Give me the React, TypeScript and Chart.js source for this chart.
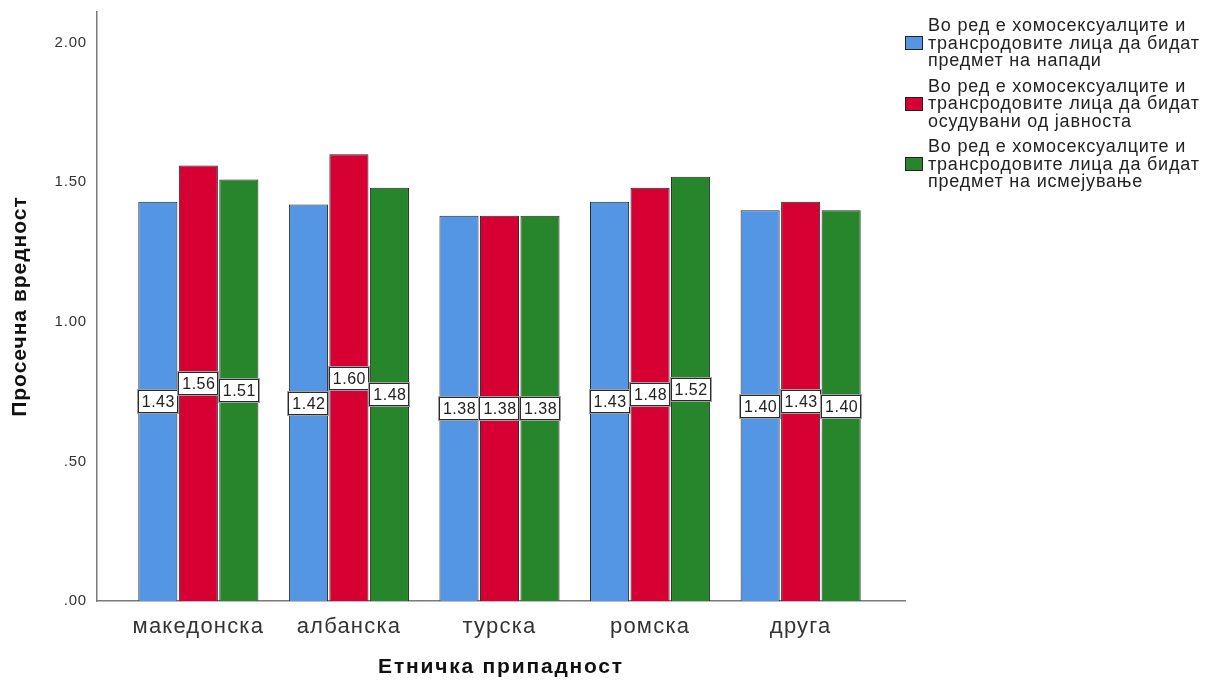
import React, { useEffect, useRef } from "react";
import { Chart, registerables } from "chart.js";

Chart.register(...registerables);

const categories = ["македонска", "албанска", "турска", "ромска", "друга"];
const seriesNames = [
  ["Во ред е хомосексуалците и", "трансродовите лица да бидат", "предмет на напади"],
  ["Во ред е хомосексуалците и", "трансродовите лица да бидат", "осудувани од јавноста"],
  ["Во ред е хомосексуалците и", "трансродовите лица да бидат", "предмет на исмејување"],
];
const attacks = [1.43, 1.42, 1.38, 1.43, 1.40];
const condemned = [1.56, 1.60, 1.38, 1.48, 1.43];
const mocked = [1.51, 1.48, 1.38, 1.52, 1.40];
const yTicks = [0, 0.5, 1, 1.5, 2];
const yTickLabels = [".00", ".50", "1.00", "1.50", "2.00"];
const colors = ["#5596e4", "#d70033", "#27862b"];
const FONT = "Arial, 'Liberation Sans', sans-serif";

const spacing: Record<string, { ticks: string; title: string }> = {
  x: { ticks: "1.2px", title: "1.8px" },
  y: { ticks: "0.8px", title: "1px" },
};

const spacingPlugin = {
  id: "letterSpacing",
  beforeDraw(chart: any) {
    ["x", "y"].forEach((id) => {
      const s = chart.scales[id];
      if (!s || s.__patched) return;
      const origLabels = s.drawLabels.bind(s);
      const origTitle = s.drawTitle.bind(s);
      s.drawLabels = (ca: any) => {
        const c = chart.ctx;
        c.save();
        c.letterSpacing = spacing[id].ticks;
        origLabels(ca);
        c.restore();
      };
      s.drawTitle = (ca: any) => {
        const c = chart.ctx;
        c.save();
        c.letterSpacing = spacing[id].title;
        origTitle(ca);
        c.restore();
      };
      s.__patched = true;
    });
  },
};

const labelPlugin = {
  id: "valueBoxes",
  afterDatasetsDraw(chart: any) {
    const ctx = chart.ctx;
    const yScale = chart.scales.y;
    chart.data.datasets.forEach((ds: any, di: number) => {
      const meta = chart.getDatasetMeta(di);
      meta.data.forEach((bar: any, i: number) => {
        const v = ds.data[i].y;
        const cy = Math.round(yScale.getPixelForValue(v / 2)) + 1;
        const w = Math.round(bar.width) + 1;
        const h = 23;
        const x = Math.round(bar.x - w / 2);
        const y = cy - Math.round(h / 2);
        ctx.save();
        ctx.fillStyle = "#ffffff";
        ctx.fillRect(x, y, w, h);
        ctx.strokeStyle = "#a0a0a0";
        ctx.lineWidth = 1;
        ctx.strokeRect(x - 0.5, y - 0.5, w + 1, h + 1);
        ctx.strokeStyle = "#2a2a2a";
        ctx.strokeRect(x + 0.5, y + 0.5, w - 1, h - 1);
        ctx.fillStyle = "#222222";
        ctx.font = `16px ${FONT}`;
        ctx.letterSpacing = "0.5px";
        ctx.textAlign = "center";
        ctx.textBaseline = "middle";
        ctx.fillText(v.toFixed(2), bar.x + 0.5, cy + 1);
        ctx.restore();
      });
    });
  },
};

export default function App() {
  const ref = useRef<HTMLCanvasElement>(null);
  useEffect(() => {
    document.body.style.margin = "0";
    const mk = (arr: number[]) => arr.map((y, i) => ({ x: i, y }));
    const chart = new Chart(ref.current!, {
      type: "bar",
      data: {
        datasets: [attacks, condemned, mocked].map((d, i) => ({
          label: seriesNames[i].join(" "),
          data: mk(d),
          backgroundColor: colors[i],
          borderColor: "#262626",
          borderWidth: 1,
          categoryPercentage: 0.807,
          barPercentage: 0.965,
        })) as any,
      },
      options: {
        animation: false,
        responsive: false,
        maintainAspectRatio: false,
        layout: { padding: { top: 12, right: 300, left: 0, bottom: 0 } },
        plugins: { legend: { display: false }, tooltip: { enabled: false } },
        scales: {
          x: {
            type: "linear",
            offset: false,
            min: -0.673,
            max: 4.693,
            afterBuildTicks: (s: any) => {
              s.ticks = categories.map((_, i) => ({ value: i }));
            },
            afterFit: (s: any) => {
              s.height = 81;
              s.paddingLeft = 0;
              s.paddingRight = 0;
            },
            grid: { display: false, drawTicks: false },
            border: { display: true, color: "#7a7a7a", width: 1.5 },
            ticks: {
              color: "#333",
              font: { family: FONT, size: 22 },
              padding: 13,
              maxRotation: 0,
              autoSkip: false,
              callback: (v: any) => categories[v] ?? "",
            },
            title: {
              display: true,
              text: "Етничка припадност",
              color: "#111",
              font: { family: FONT, size: 21, weight: "bold" },
              padding: { top: 10, bottom: 2 },
            },
          },
          y: {
            min: 0,
            max: 2.11,
            afterBuildTicks: (s: any) => {
              s.ticks = yTicks.map((v) => ({ value: v }));
            },
            afterFit: (s: any) => {
              s.width = 97;
              s.paddingTop = 0;
              s.paddingBottom = 0;
            },
            grid: { display: false, drawTicks: false },
            border: { display: true, color: "#7a7a7a", width: 1.5 },
            ticks: {
              color: "#333",
              font: { family: FONT, size: 15 },
              padding: 10,
              callback: (v: any) => yTickLabels[yTicks.indexOf(v)] ?? "",
            },
            title: {
              display: true,
              text: "Просечна вредност",
              color: "#111",
              font: { family: FONT, size: 21, weight: "bold" },
              padding: { top: 8, bottom: 0 },
            },
          },
        },
      },
      plugins: [spacingPlugin, labelPlugin],
    });
    return () => chart.destroy();
  }, []);

  return (
    <div style={{ position: "relative", width: 1205, height: 682, background: "#fff" }}>
      <canvas ref={ref} width={1205} height={682} style={{ display: "block" }} />
      <div
        style={{
          position: "absolute",
          left: 905,
          top: 17,
          fontFamily: FONT,
          fontSize: 18,
          letterSpacing: "0.8px",
          color: "#222",
        }}
      >
        {seriesNames.map((lines, i) => (
          <div key={i} style={{ display: "flex", alignItems: "center", marginBottom: 8 }}>
            <div
              style={{
                width: 18,
                height: 14,
                background: colors[i],
                border: "1px solid #222",
                boxSizing: "border-box",
                flex: "0 0 auto",
                marginRight: 5,
              }}
            />
            <div style={{ lineHeight: "17.5px", whiteSpace: "nowrap" }}>
              {lines.map((l, j) => (
                <div key={j}>{l}</div>
              ))}
            </div>
          </div>
        ))}
      </div>
    </div>
  );
}
